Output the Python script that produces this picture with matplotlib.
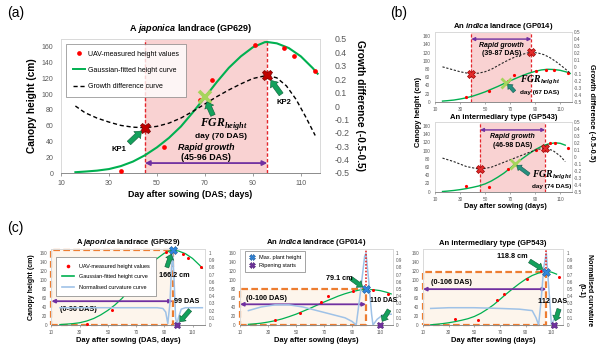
import numpy as np
import matplotlib
matplotlib.use("Agg")
import matplotlib.pyplot as plt
from matplotlib.lines import Line2D
from matplotlib.patches import Rectangle
from matplotlib.ticker import FuncFormatter

plt.rcParams['font.family'] = ['Liberation Sans', 'DejaVu Sans']
plt.rcParams['mathtext.fontset'] = 'custom'
plt.rcParams['mathtext.rm'] = 'Liberation Sans:bold'
plt.rcParams['mathtext.it'] = 'Liberation Sans:italic:bold'
plt.rcParams['mathtext.bf'] = 'Liberation Sans:bold'
plt.rcParams['mathtext.cal'] = 'Liberation Serif:italic:bold'

# ---------------- GP629, japonica landrace ----------------
jp_obs_day = [35, 53, 68, 73, 91, 103, 107, 116]
jp_obs_height = [3, 33, 92, 118, 163, 158, 148, 129]
jp_fit_day = [16, 20, 25, 30, 35, 40, 45, 50, 55, 60, 65, 70, 75, 80, 85, 90, 95, 96,
              100, 105, 110, 115, 117]
jp_fit_height = [1.0, 1.8, 3.0, 5.0, 8.8, 14.5, 22.5, 32.5, 44.5, 59.0, 77.0, 96.0, 115.5,
                 133.5, 148.0, 159.5, 166.0, 166.2, 164.5, 158.5, 148.0, 133.0, 126.0]
jp_diff_day = [16, 20, 25, 30, 35, 40, 45, 50, 55, 60, 65, 70, 75, 80, 85, 90, 96,
               100, 104, 108, 112, 116]
jp_diff = [0.0, -0.05, -0.09, -0.12, -0.145, -0.158, -0.162, -0.152, -0.128, -0.09, -0.04,
           0.015, 0.07, 0.12, 0.165, 0.205, 0.229, 0.21, 0.15, 0.05, -0.08, -0.22]
jp_curv_day = [16, 30, 50, 70, 85, 89, 91, 92.5, 94, 95, 96, 97, 98, 99, 100, 102, 105, 117]
jp_curv = [0.24, 0.24, 0.24, 0.24, 0.24, 0.23, 0.18, 0.02, 0.3, 0.75, 1.0, 0.6, 0.1, 0.0,
           0.1, 0.22, 0.24, 0.24]
jp_key_days = [45, 96]
jp_fgr_day = 70
jp_max_day, jp_max_height = 96, 166.2
jp_ripening_day = 99

# ---------------- GP014, indica landrace ----------------
in_obs_day = [35, 53, 68, 73, 91, 99, 105, 116]
in_obs_height = [11, 27, 51, 65, 75, 77, 77, 70]
in_fit_day = [16, 20, 25, 30, 35, 40, 45, 50, 55, 60, 65, 70, 75, 80, 85, 90, 95, 100,
              105, 110, 115, 118]
in_fit_height = [1.5, 2.5, 4.0, 6.5, 9.5, 13.5, 18.5, 24.0, 30.5, 37.0, 44.0, 51.0, 57.5,
                 64.0, 69.5, 74.0, 77.5, 79.1, 78.5, 76.5, 72.5, 69.0]
in_diff_day = [16, 20, 25, 30, 35, 39, 45, 50, 55, 60, 65, 70, 75, 80, 84, 87, 92, 97,
               102, 107, 112, 118]
in_diff = [0.0, -0.02, -0.045, -0.07, -0.088, -0.097, -0.09, -0.07, -0.035, 0.015, 0.065,
           0.11, 0.15, 0.18, 0.2, 0.206, 0.2, 0.175, 0.13, 0.07, 0.0, -0.09]
in_curv_day = [16, 25, 35, 45, 55, 65, 75, 85, 90, 93, 96, 99, 100, 102, 104, 105, 108,
               112, 118]
in_curv = [0.2, 0.25, 0.28, 0.28, 0.25, 0.2, 0.15, 0.1, 0.05, 0.0, 0.45, 0.95, 1.0, 0.6,
           0.15, 0.0, 0.08, 0.14, 0.15]
in_key_days = [39, 87]
in_fgr_day = 67
in_max_day, in_max_height = 100, 79.1
in_ripening_day = 110

# ---------------- GP543, intermediary type ----------------
im_obs_day = [35, 53, 68, 73, 91, 102, 106, 116]
im_obs_height = [14, 12, 56, 68, 102, 119, 119, 106]
im_fit_day = [16, 20, 25, 30, 35, 40, 45, 50, 55, 60, 65, 70, 74, 80, 85, 90, 95, 100,
              106, 110, 114]
im_fit_height = [0.5, 1.5, 3.0, 5.0, 7.5, 10.5, 14.0, 19.0, 26.0, 35.0, 45.0, 57.0, 67.0,
                 81.0, 92.0, 102.0, 110.0, 115.5, 118.8, 117.5, 113.0]
im_diff_day = [16, 25, 35, 46, 55, 65, 75, 85, 92, 98, 104, 110, 114]
im_diff = [-0.02, -0.07, -0.14, -0.18, -0.15, -0.08, -0.01, 0.06, 0.105, 0.12, 0.09, 0.01,
           -0.07]
im_curv_day = [16, 30, 50, 70, 85, 95, 98, 100, 102, 104, 106, 108, 110, 112, 115, 117]
im_curv = [0.23, 0.24, 0.24, 0.23, 0.22, 0.2, 0.1, 0.0, 0.35, 0.8, 1.0, 0.5, 0.0, 0.08,
           0.17, 0.2]
im_key_days = [46, 98]
im_fgr_day = 74
im_max_day, im_max_height = 106, 118.8
im_ripening_day = 112

# ---------------- styling ----------------
GREY = '#595959'
SPINE = '#d9d9d9'
AXIS = '#8c8c8c'
PINK = '#f9d2d2'
RED_LINE = '#e4262c'
DOT = '#ff0000'
GREEN = '#00b050'
PURPLE = '#7030a0'
ORANGE = '#ed7d31'
BOXFILL = '#fdf5ec'
CURV = '#9fc2e7'
KP_RED = '#c00000'
FGR_GREEN = '#a6d45c'
ARROW_FC = '#13a15c'
ARROW_EC = '#0b5c35'
TEAL_FC = '#25907f'
MAXBLUE = '#2e86de'

W, H = 598, 348
fig = plt.figure(figsize=(W / 100, H / 100), dpi=100)
fig.patch.set_facecolor('white')


def frac_box(l, t, r, b):
    return [l / W, 1 - b / H, (r - l) / W, (b - t) / H]


def fig_text(x, y, s, **kw):
    kw.setdefault('ha', 'center')
    kw.setdefault('va', 'center')
    fig.text(x / W, 1 - y / H, s, **kw)


def fmt_g(v, _):
    return '0' if abs(v) < 1e-9 else f'{v:g}'


def style_frame(ax, axr):
    for name, s in ax.spines.items():
        s.set_color(AXIS if name == 'bottom' else SPINE)
        s.set_linewidth(0.7)
    for s in axr.spines.values():
        s.set_visible(False)


def block_arrow(host, xy, tail, scale, fc, ec, shrink, coords):
    host.annotate('', xy=xy, xycoords=coords, xytext=tail, textcoords='offset points',
                  annotation_clip=False,
                  arrowprops=dict(arrowstyle='simple,head_length=0.6,head_width=1.0,tail_width=0.5',
                                  mutation_scale=scale, fc=fc, ec=ec, lw=0.4,
                                  shrinkA=0, shrinkB=shrink))


def off_text(host, xy, off, s, coords, **kw):
    host.annotate(s, xy=xy, xycoords=coords, xytext=off, textcoords='offset points',
                  ha='center', va='center', annotation_clip=False, **kw)


def span_arrow(ax, x0, x1, y, lw, scale):
    ax.annotate('', xy=(x1, y), xytext=(x0, y), xycoords='data', textcoords='data',
                arrowprops=dict(arrowstyle='<|-|>', color=PURPLE, lw=lw,
                                mutation_scale=scale, shrinkA=0, shrinkB=0))


FGR_LABEL = r'$\mathcal{FGR}_{\mathcal{height}}$'

# =============== (a) growth difference, GP629 ===============
ax = fig.add_axes(frac_box(61, 39, 320, 173))
ax.set_xlim(10, 118)
ax.set_ylim(0, 170)
axr = ax.twinx()
axr.set_ylim(-0.5, 0.5)
style_frame(ax, axr)
ax.set_xticks(range(10, 111, 20))
ax.set_yticks(range(0, 161, 20))
axr.set_yticks(np.round(np.linspace(-0.5, 0.5, 11), 1))
axr.yaxis.set_major_formatter(FuncFormatter(fmt_g))
ax.tick_params(axis='y', length=0, labelsize=5, labelcolor=GREY, pad=5.5)
ax.tick_params(axis='x', length=2, width=0.6, color=AXIS, labelsize=5, labelcolor=GREY, pad=3)
axr.tick_params(axis='y', length=0, labelsize=6.3, labelcolor=GREY, pad=10.5)

k1, k2 = jp_key_days
ax.axvspan(k1, k2, color=PINK, lw=0, zorder=0)
for d in jp_key_days:
    ax.axvline(d, color=RED_LINE, lw=1.0, ls=(0, (2.5, 1.5)), zorder=1)
ax.plot(jp_fit_day, jp_fit_height, color=GREEN, lw=1.5, zorder=3)
ax.plot(jp_obs_day, jp_obs_height, 'o', color=DOT, ms=3.4, mec='none', zorder=4)
axr.plot(jp_diff_day, jp_diff, color='black', lw=1.0, ls=(0, (3, 2)))
kp_vals = np.interp(jp_key_days, jp_diff_day, jp_diff)
axr.plot(jp_key_days, kp_vals, 'X', color=KP_RED, ms=7.5, mec='#7a0000', mew=0.5)
fgr_h = float(np.interp(jp_fgr_day, jp_fit_day, jp_fit_height))
axr.plot([jp_fgr_day], [fgr_h], 'x', transform=ax.transData, color=FGR_GREEN, ms=9, mew=2.6)

span_arrow(ax, k1, k2, 12.6, 1.3, 7)
mid = (k1 + k2) / 2
ax.text(mid, 32.8, 'Rapid growth', ha='center', va='center', fontsize=6.4,
        fontweight='bold', fontstyle='italic')
ax.text(mid, 20.2, f'({k1}-{k2} DAS)', ha='center', va='center', fontsize=6.4,
        fontweight='bold')

kp1 = (k1, kp_vals[0])
kp2 = (k2, kp_vals[1])
block_arrow(axr, kp1, (-11.5, -11), 7, ARROW_FC, ARROW_EC, 3.5, 'data')
off_text(axr, kp1, (-19, -15.5), 'KP1', 'data', fontsize=5.5, fontweight='bold')
block_arrow(axr, kp2, (10, -13.7), 7, ARROW_FC, ARROW_EC, 4.5, 'data')
off_text(axr, kp2, (11.7, -19.5), 'KP2', 'data', fontsize=5.5, fontweight='bold')
block_arrow(axr, (jp_fgr_day, fgr_h), (5.8, -13), 7, ARROW_FC, ARROW_EC, 3.5, ax.transData)
off_text(axr, (jp_fgr_day, fgr_h), (14, -19), FGR_LABEL, ax.transData, fontsize=8.5)
off_text(axr, (jp_fgr_day, fgr_h), (11.5, -28.5), f'day ({jp_fgr_day} DAS)', ax.transData,
         fontsize=6, fontweight='bold')

handles = [Line2D([], [], ls='none', marker='o', color=DOT, mec='none', ms=3.4,
                  label='UAV-measured height values'),
           Line2D([], [], color=GREEN, lw=1.4, label='Gaussian-fitted height curve'),
           Line2D([], [], color='black', lw=1.0, ls=(0, (3, 2)), label='Growth difference curve')]
leg = axr.legend(handles=handles, loc='upper left', bbox_to_anchor=(0.019, 0.963),
                 fontsize=5, frameon=True, fancybox=False, edgecolor='#7f7f7f',
                 borderpad=1.0, labelspacing=1.3, handlelength=1.7, handletextpad=0.5,
                 borderaxespad=0)
leg.get_frame().set_linewidth(0.6)

ax.set_title('A $\\it{japonica}$ landrace (GP629)', fontsize=6.5, fontweight='bold', pad=5.5)
ax.set_xlabel('Day after sowing (DAS; days)', fontsize=6.4, fontweight='bold', labelpad=2.5)
ax.set_ylabel('Canopy height (cm)', fontsize=7.3, fontweight='bold', labelpad=3.5)
axr.set_ylabel('Growth difference (-0.5-0.5)', fontsize=7.3, fontweight='bold',
               rotation=270, va='bottom', labelpad=4)
fig_text(7, 13, '(a)', fontsize=10, ha='left')


# =============== (b) growth difference, GP014 and GP543 ===============
def panel_b(top, bottom, title, obs_day, obs_h, fit_day, fit_h, diff_day, diff, keys,
            fgr_day, lay):
    ax = fig.add_axes(frac_box(435, top, 571.5, bottom))
    ax.set_xlim(10, 119)
    ax.set_ylim(0, 170)
    axr = ax.twinx()
    axr.set_ylim(-0.5, 0.5)
    style_frame(ax, axr)
    ax.set_xticks(range(10, 111, 20))
    ax.set_yticks(range(0, 161, 20))
    axr.set_yticks(np.round(np.linspace(-0.5, 0.5, 11), 1))
    axr.yaxis.set_major_formatter(FuncFormatter(fmt_g))
    ax.tick_params(axis='y', length=0, labelsize=3.4, labelcolor=GREY, pad=3.5)
    ax.tick_params(axis='x', length=1.5, width=0.5, color=AXIS, labelsize=3.4,
                   labelcolor=GREY, pad=2)
    axr.tick_params(axis='y', length=0, labelsize=3.4, labelcolor=GREY, pad=2)

    a, b = keys
    ax.axvspan(a, b, color=PINK, lw=0, zorder=0)
    for d in keys:
        ax.axvline(d, color=RED_LINE, lw=0.9, ls=(0, (2.5, 1.5)), zorder=1)
    ax.plot(fit_day, fit_h, color=GREEN, lw=1.0, zorder=3)
    ax.plot(obs_day, obs_h, 'o', color=DOT, ms=2.3, mec='none', zorder=4)
    axr.plot(diff_day, diff, color='#262626', lw=0.8, ls=(0, (2, 1.5)))
    kv = np.interp(keys, diff_day, diff)
    axr.plot(keys, kv, 'X', color='#e32b2b', ms=5.5, mec='#9b0000', mew=0.5)
    fh = float(np.interp(fgr_day, fit_day, fit_h))
    axr.plot([fgr_day], [fh], 'x', transform=ax.transData, color=FGR_GREEN, ms=6.5, mew=2.0)

    span_arrow(ax, a, b, lay['arrow_y'], 1.0, 5)
    m = (a + b) / 2
    ax.text(m, lay['rg_y'][0], 'Rapid growth', ha='center', va='center', fontsize=5,
            fontweight='bold', fontstyle='italic')
    ax.text(m, lay['rg_y'][1], f'({a}-{b} DAS)', ha='center', va='center', fontsize=5,
            fontweight='bold')
    block_arrow(axr, (fgr_day, fh), lay['fgr_tail'], 5, TEAL_FC, '#145a50', 1.5, ax.transData)
    off_text(axr, (fgr_day, fh), lay['fgr_txt'], FGR_LABEL, ax.transData, fontsize=7)
    off_text(axr, (fgr_day, fh), lay['day_txt'], f'day ({fgr_day} DAS)', ax.transData,
             fontsize=4.6, fontweight='bold')
    ax.set_title(title, fontsize=5.5, fontweight='bold', pad=2)
    return ax


panel_b(32, 101.7, 'An $\\it{indica}$ landrace (GP014)', in_obs_day, in_obs_height,
        in_fit_day, in_fit_height, in_diff_day, in_diff, in_key_days, in_fgr_day,
        dict(arrow_y=152.7, rg_y=(138, 118), fgr_tail=(5.8, -6.5),
             fgr_txt=(24, 1.5), day_txt=(24, -7)))
panel_b(121.7, 191.7, 'An intermediary type (GP543)', im_obs_day, im_obs_height,
        im_fit_day, im_fit_height, im_diff_day, im_diff, im_key_days, im_fgr_day,
        dict(arrow_y=150, rg_y=(133.6, 113.4), fgr_tail=(10, -7.5),
             fgr_txt=(26.5, -8), day_txt=(26.5, -16)))
fig_text(390, 13, '(b)', fontsize=10, ha='left')
fig_text(418, 112, 'Canopy height (cm)', fontsize=5.4, fontweight='bold', rotation=90)
fig_text(592, 113, 'Growth difference (-0.5-0.5)', fontsize=5.4, fontweight='bold',
         rotation=270)
fig_text(505, 207, 'Day after sowing (days)', fontsize=5.3, fontweight='bold')


# =============== (c) curvature, maximum height and ripening ===============
def panel_c(l, r, title, xlabel, obs_day, obs_h, fit_day, fit_h, curv_day, curv,
            max_day, max_h, ripening, lay):
    ax = fig.add_axes(frac_box(l, 248.5, r, 325))
    ax.set_xlim(10, 119)
    ax.set_ylim(0, 170)
    axr = ax.twinx()
    axr.set_ylim(0, 170 / 160)
    style_frame(ax, axr)
    ax.set_xticks(range(10, 111, 20))
    ax.set_yticks(range(0, 161, 20))
    axr.set_yticks(np.round(np.linspace(0, 1, 11), 1))
    axr.yaxis.set_major_formatter(FuncFormatter(fmt_g))
    ax.tick_params(axis='y', length=0, labelsize=3.3, labelcolor=GREY, pad=3)
    ax.tick_params(axis='x', length=1.5, width=0.5, color=AXIS, labelsize=3.3,
                   labelcolor=GREY, pad=2)
    axr.tick_params(axis='y', length=0, labelsize=3.3, labelcolor=GREY, pad=2.5)

    ax.add_patch(Rectangle((10, 0), max_day - 10, max_h, facecolor=BOXFILL, edgecolor=ORANGE,
                           lw=1.6, ls=(0, (3, 1.5)), zorder=1, clip_on=False))
    ax.plot(fit_day, fit_h, color=GREEN, lw=0.9, zorder=3)
    ax.plot(obs_day, obs_h, 'o', color=DOT, ms=2.2, mec='none', zorder=4)
    axr.plot(curv_day, curv, color=CURV, lw=1.1)
    if lay['spike']:
        axr.plot([max_day, max_day], [max_h, 170], transform=ax.transData, color='#e32b2b',
                 lw=1.2, ls=(0, (1, 1)))
    span_arrow(ax, 10, max_day, lay['span_y'], 1.3, 5)
    ax.text(lay['span_txt'][0], lay['span_txt'][1], f'(0-{max_day} DAS)', ha='center',
            va='center', fontsize=5.2, fontweight='bold', zorder=6)
    axr.plot([max_day], [max_h], 'X', transform=ax.transData, color=MAXBLUE, ms=5.5,
             mec='#1d5a9a', mew=0.4, clip_on=False)
    axr.plot([ripening], [0], 'X', transform=ax.transData, color=PURPLE, ms=5, mec='#4b1d70',
             mew=0.4, clip_on=False)
    block_arrow(axr, (max_day, max_h), lay['max_tail'], 6, ARROW_FC, ARROW_EC, 3,
                ax.transData)
    off_text(axr, (max_day, max_h), lay['max_txt'], f'{max_h} cm', ax.transData,
             fontsize=5.2, fontweight='bold')
    block_arrow(axr, (ripening, 0), lay['rip_tail'], 6, ARROW_FC, ARROW_EC, 3, ax.transData)
    off_text(axr, (ripening, 0), lay['rip_txt'], f'{ripening} DAS', ax.transData,
             fontsize=lay.get('rip_fs', 5.2), fontweight='bold')
    ax.set_title(title, fontsize=5.5, fontweight='bold', pad=2.5)
    ax.set_xlabel(xlabel, fontsize=5.4, fontweight='bold', labelpad=1.5)
    return ax, axr


c1, c1r = panel_c(51.4, 205.2, 'A $\\it{japonica}$ landrace (GP629)',
                  'Day after sowing (DAS, days)', jp_obs_day, jp_obs_height, jp_fit_day,
                  jp_fit_height, jp_curv_day, jp_curv, jp_max_day, jp_max_height,
                  jp_ripening_day,
                  dict(spike=False, span_y=52.9, span_txt=(29, 34.6), max_tail=(-4.3, -12.3),
                       max_txt=(1, -18.4), rip_tail=(9.4, 10.8), rip_txt=(7.2, 16.6)))
c2, c2r = panel_c(240, 392.6, 'An $\\it{indica}$ landrace (GP014)', 'Day after sowing (days)',
                  in_obs_day, in_obs_height, in_fit_day, in_fit_height, in_curv_day, in_curv,
                  in_max_day, in_max_height, in_ripening_day,
                  dict(spike=True, span_y=46, span_txt=(29, 59.6), max_tail=(-10.8, 7.9),
                       max_txt=(-19.2, 7.7), rip_tail=(6.5, 10.8), rip_txt=(2.5, 17.5),
                       rip_fs=4.9))
c3, c3r = panel_c(423, 563, 'An intermediary type (GP543)', 'Day after sowing (days)',
                  im_obs_day, im_obs_height, im_fit_day, im_fit_height, im_curv_day, im_curv,
                  im_max_day, im_max_height, im_ripening_day,
                  dict(spike=True, span_y=79.7, span_txt=(32, 94.4), max_tail=(-12, 7.6),
                       max_txt=(-24.5, 10.8), rip_tail=(3.6, 11.5), rip_txt=(-0.7, 16.8)))

h1 = [Line2D([], [], ls='none', marker='o', color=DOT, mec='none', ms=2.6,
             label='UAV-measured height values'),
      Line2D([], [], color=GREEN, lw=1.2, label='Gaussian-fitted height curve'),
      Line2D([], [], color=CURV, lw=1.2, label='Normalised curvature curve')]
lg1 = c1r.legend(handles=h1, loc='upper left', bbox_to_anchor=(0.03, 0.883), fontsize=4,
                 frameon=True, fancybox=False, edgecolor='#7f7f7f', framealpha=1,
                 borderpad=1.1, labelspacing=1.0, handlelength=2.2, handletextpad=0.8,
                 borderaxespad=0)
lg1.get_frame().set_linewidth(0.5)
h2 = [Line2D([], [], ls='none', marker='X', color=MAXBLUE, mec='#1d5a9a', mew=0.4, ms=4,
             label='Max. plant height'),
      Line2D([], [], ls='none', marker='X', color=PURPLE, mec='#4b1d70', mew=0.4, ms=4,
             label='Ripening starts')]
lg2 = c2r.legend(handles=h2, loc='upper left', bbox_to_anchor=(0.033, 0.965), fontsize=4,
                 frameon=True, fancybox=False, edgecolor='#7f7f7f', framealpha=1,
                 borderpad=0.7, labelspacing=0.6, handlelength=1.2, handletextpad=0.6,
                 borderaxespad=0)
lg2.get_frame().set_linewidth(0.5)

fig_text(7, 228, '(c)', fontsize=10, ha='left')
fig_text(31.7, 287, 'Canopy height (cm)', fontsize=5, fontweight='bold', rotation=90)
fig_text(585, 290, 'Normalised curvature\n(0-1)', fontsize=5, fontweight='bold',
         rotation=270, linespacing=1.3)

fig.savefig('out.png', dpi=100, facecolor='white')
